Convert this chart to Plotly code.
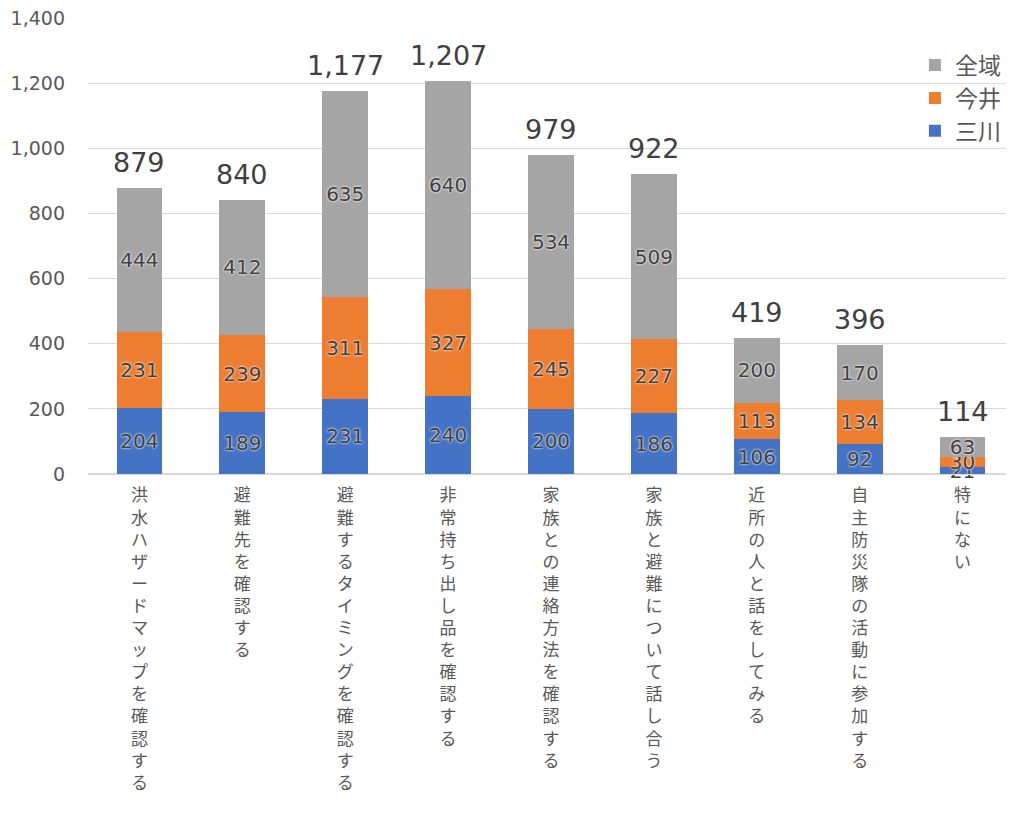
import plotly.graph_objects as go

categories = [
    "洪水ハザードマップを確認する",
    "避難先を確認する",
    "避難するタイミングを確認する",
    "非常持ち出し品を確認する",
    "家族との連絡方法を確認する",
    "家族と避難について話し合う",
    "近所の人と話をしてみる",
    "自主防災隊の活動に参加する",
    "特にない",
]
mikawa = [204, 189, 231, 240, 200, 186, 106, 92, 21]
imai = [231, 239, 311, 327, 245, 227, 113, 134, 30]
zeniki = [444, 412, 635, 640, 534, 509, 200, 170, 63]
totals = [a + b + c for a, b, c in zip(mikawa, imai, zeniki)]

CJK_FONT = "Noto Sans CJK JP"
NUM_FONT = "DejaVu Sans, Noto Sans CJK JP"
TEXT_GRAY = "#595959"
LABEL_GRAY = "#404040"

# vertical (tategaki) labels: one character per line
tick_text = ["<br>".join(list(c)) for c in categories]
x_idx = list(range(len(categories)))

series = [
    ("三川", mikawa, "#4472C4"),
    ("今井", imai, "#ED7D31"),
    ("全域", zeniki, "#A5A5A5"),
]

fig = go.Figure()
for name, vals, color in series:
    fig.add_trace(
        go.Bar(
            x=x_idx,
            y=vals,
            name=name,
            marker=dict(color=color, line=dict(width=0)),
            text=[str(v) for v in vals],
            textposition="inside",
            insidetextanchor="middle",
            textangle=0,
            constraintext="none",
            cliponaxis=False,
            textfont=dict(
                family=NUM_FONT,
                size=20,
                color=LABEL_GRAY,
                shadow="0px 0px 2px rgba(255,255,255,0.9), 0px 0px 3px rgba(255,255,255,0.7)",
            ),
        )
    )

# totals above each stack
for i, t in enumerate(totals):
    fig.add_annotation(
        x=i,
        y=t,
        text=f"{t:,}",
        showarrow=False,
        xanchor="center",
        yanchor="bottom",
        yshift=8,
        font=dict(family=NUM_FONT, size=27, color=LABEL_GRAY),
    )

fig.update_layout(
    width=1006,
    height=809,
    barmode="stack",
    bargap=0.555,
    paper_bgcolor="white",
    plot_bgcolor="white",
    font=dict(family=CJK_FONT, color=TEXT_GRAY),
    margin=dict(l=80, r=0, t=10, b=343),
    showlegend=True,
    legend=dict(
        traceorder="reversed",
        x=0.893,
        xanchor="left",
        y=0.944,
        yanchor="top",
        font=dict(family=CJK_FONT, size=23, color=TEXT_GRAY),
        bgcolor="rgba(0,0,0,0)",
        itemwidth=30,
    ),
    xaxis=dict(
        tickmode="array",
        tickvals=x_idx,
        ticktext=tick_text,
        range=[-0.5, len(categories) - 0.5],
        tickangle=0,
        tickfont=dict(family=CJK_FONT, size=17, color=TEXT_GRAY),
        showgrid=False,
        showline=True,
        linecolor="#d9d9d9",
        ticks="",
        ticklabelstandoff=6,
        ticklabeloverflow="allow",
        automargin=False,
    ),
    yaxis=dict(
        range=[0, 1400],
        dtick=200,
        tickformat=",",
        tickfont=dict(family=NUM_FONT, size=19, color=TEXT_GRAY),
        gridcolor="#d9d9d9",
        zeroline=True,
        zerolinecolor="#d9d9d9",
        ticks="",
        ticklabelstandoff=22,
        ticklabeloverflow="allow",
        automargin=False,
    ),
)

fig.write_html("out.html")
